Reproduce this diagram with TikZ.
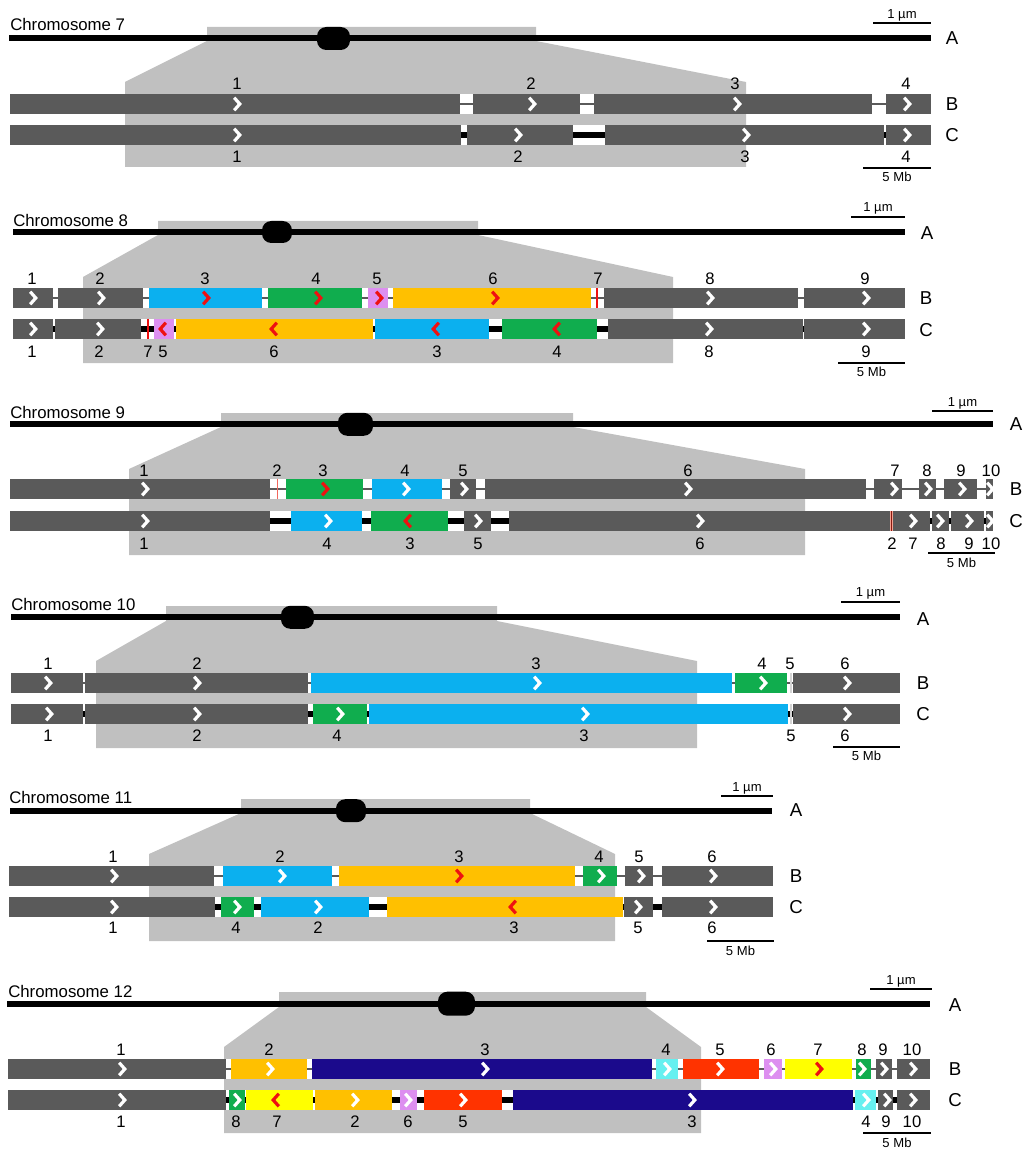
\documentclass[tikz,border=0pt]{standalone}
\usepackage{fontspec}
\setmainfont{Liberation Sans}
\definecolor{cDg}{HTML}{5A5A5A}
\definecolor{zoomgray}{HTML}{C0C0C0}
\definecolor{cBlue}{HTML}{0BB0EF}
\definecolor{cGreen}{HTML}{10AD4E}
\definecolor{cOrange}{HTML}{FFC000}
\definecolor{cPink}{HTML}{DD8FF0}
\definecolor{cRedOr}{HTML}{FF3300}
\definecolor{cYellow}{HTML}{FFFF00}
\definecolor{cNavy}{HTML}{1B0A8C}
\definecolor{cCyan}{HTML}{66F0F0}
\definecolor{chevred}{HTML}{EE1111}
\definecolor{darkred}{HTML}{8B1A10}
\definecolor{pinkred}{HTML}{F4A090}

% orientation chevrons drawn inside the blocks
\newcommand\chevW[2]{\draw[chev,white,shift={(#1,#2)}] (-2.8,-6.3) -- (2.8,0) -- (-2.8,6.3);}
\newcommand\chevR[2]{\draw[chev,chevred,shift={(#1,#2)}] (-2.8,-6.3) -- (2.8,0) -- (-2.8,6.3);}
\newcommand\chevL[2]{\draw[chev,chevred,shift={(#1,#2)}] (2.8,-6.3) -- (-2.8,0) -- (2.8,6.3);}
\newcommand\chevN[2]{}
% white track with its linker line: #1 top, #2 left, #3 right, #4 linker style
\newcommand\ktrack[4]{\fill[white] (#2,#1) rectangle (#3,#1+20);
  \draw[#4] (#2,#1+10) -- (#3,#1+10);}
% coloured blocks: #1 top, #2 list left/right/colour/chevron x/chevron type
\newcommand\kseg[2]{\foreach \xa/\xb/\col/\cx/\dir in {#2}{%
  \fill[\col] (\xa,#1) rectangle (\xb,#1+20);
  \csname chev\dir\endcsname{\cx}{#1+10}}}
% block numbers: #1 name prefix, #2 y, #3 list x/text
\newcommand\klabs[3]{\foreach \lx/\lt in {#3}{\node[num] (#1\lt) at (\lx,#2) {\lt};}}
% zoom wedge: x1,x2,ytop,yline,xl,xr,yslope,ybot
\newcommand\ktrap[8]{\fill[zoomgray] (#1,#3) -- (#2,#3) -- (#2,#4) -- (#6,#7) -- (#6,#8)
  -- (#5,#8) -- (#5,#7) -- (#1,#4) -- cycle;}
% chromosome line with centromere: #1 x1, #2 x2, #3 y, #4 cx, #5 half width, #6 half height
\newcommand\kchrom[6]{\draw[chromo] (#1,#3) -- (#2,#3);
  \fill[black,rounded corners=7pt] (#4-#5,#3-#6) rectangle (#4+#5,#3+#6);}
% scale bars
\newcommand\kum[4]{\draw[bar] (#2,#4) -- (#3,#4);
  \node[scl] (#1) at ({(#2+#3)/2},#4-5) {1 µm};}
\newcommand\kmb[4]{\draw[bar] (#2,#4) -- (#3,#4);
  \node[scl] (#1) at ({(#2+#3)/2},#4+14) {5 Mb};}
\newcommand\ktick[4]{\draw[#4] (#1,#2) -- (#1,#2+20);}

\begin{document}
\begin{tikzpicture}[x=0.75pt,y=-0.75pt,
  num/.style={font=\fontsize{12.5}{14}\selectfont, inner sep=0pt},
  ttl/.style={font=\fontsize{12.6}{15}\selectfont, anchor=west, inner sep=0pt},
  rowlbl/.style={font=\fontsize{14}{16}\selectfont, inner sep=0pt},
  scl/.style={font=\fontsize{9.8}{11}\selectfont, inner sep=0pt, anchor=base},
  chromo/.style={line width=4.5pt},
  bar/.style={line width=1.5pt},
  linkB/.style={draw=cDg, line width=1.1pt},
  linkC/.style={draw=black, line width=4pt},
  chev/.style={line width=2.4pt},
  redtick/.style={draw=chevred, line width=1.5pt}]
\useasboundingbox (0,0) rectangle (1024,1151);
\fill[white] (0,0) rectangle (1024,1151);

%% ---------------- Chromosome 7
\ktrap{207}{536}{27}{41}{125}{746}{82}{167}
\kchrom{9}{931}{38.5}{333.5}{16.5}{11.5}
\node[ttl] (t7) at (10,25) {Chromosome 7};
\kum{um7}{873}{931}{23.3}
\ktrack{94}{10}{931}{linkB}
\kseg{94}{10/460/cDg/237/W, 473/580/cDg/532/W, 594/872/cDg/737/W, 886/931/cDg/907/W}
\klabs{p7b}{84}{237/1, 531/2, 735/3, 906/4}
\ktrack{125}{10}{931}{linkC}
\kseg{125}{10/461/cDg/237/W, 467/573/cDg/518/W, 605/884/cDg/746/W, 886/931/cDg/907/W}
\klabs{p7c}{157}{237/1, 518/2, 745/3, 906/4}
\kmb{mb7}{863}{931}{168}
\node[rowlbl] (a7) at (952,38) {A};
\node[rowlbl] (b7) at (952,104) {B};
\node[rowlbl] (c7) at (952,135) {C};

%% ---------------- Chromosome 8
\ktrap{158}{478}{221}{235}{83}{673}{277}{363}
\kchrom{13}{905}{232}{277}{15}{11}
\node[ttl] (t8) at (13,220) {Chromosome 8};
\kum{um8}{851}{905}{217}
\ktrack{288}{13}{905}{linkB}
\kseg{288}{13/53/cDg/33/W, 58/143/cDg/101/W, 149/262/cBlue/206/R, 268/362/cGreen/318/R,
  368/388/cPink/379/R, 393/591/cOrange/495/R, 604/798/cDg/710/W, 804/905/cDg/866/W}
\ktick{597}{288}{}{redtick}
\klabs{p8b}{279}{32/1, 100/2, 205/3, 316/4, 377/5, 493/6, 598/7, 710/8, 865/9}
\ktrack{319}{13}{905}{linkC}
\kseg{319}{13/53/cDg/33/W, 55/141/cDg/100/W, 154/174/cPink/163/L, 176/373/cOrange/274/L,
  375/489/cBlue/436/L, 502/597/cGreen/557/L, 608/803/cDg/709/W, 804/905/cDg/866/W}
\ktick{148.3}{319}{}{redtick}
\klabs{p8c}{352}{32/1, 99/2, 148/7, 163/5, 274/6, 437/3, 557/4, 709/8, 866/9}
\kmb{mb8}{838}{905}{362.7}
\node[rowlbl] (a8) at (927,233) {A};
\node[rowlbl] (b8) at (926,298) {B};
\node[rowlbl] (c8) at (926,330) {C};

%% ---------------- Chromosome 9
\ktrap{221}{573}{413}{427}{129}{805}{469}{555}
\kchrom{10}{993}{424.3}{355.5}{17.5}{11.5}
\node[ttl] (t9) at (10,412) {Chromosome 9};
\kum{um9}{932}{993}{411}
\ktrack{479}{10}{993}{linkB}
\kseg{479}{10/270/cDg/145/W, 286/363/cGreen/325/R, 372/442/cBlue/406/W, 450/476/cDg/464/W,
  485/866/cDg/688/W, 874/902/cDg/894/W, 919/936/cDg/928/W, 944/977/cDg/962/W, 986/993/cDg/990/W}
\ktick{277.7}{479}{}{draw=pinkred!60!chevred, line width=0.9pt}
\klabs{p9b}{471}{144/1, 277/2, 323/3, 405/4, 463/5, 688/6, 895/7, 927/8, 961/9, 991/10}
\ktrack{511}{10}{993}{linkC}
\kseg{511}{10/270/cDg/145/W, 291/362/cBlue/328/W, 371/448/cGreen/408/L, 464/491/cDg/478/W,
  509/890/cDg/700/W, 893/930/cDg/913/W, 932/949/cDg/940/W, 951/984/cDg/969/W, 986/993/cDg/990/W}
\fill[pinkred] (890,511) rectangle (893,531);
\ktick{891.5}{511}{}{draw=darkred, line width=1.2pt}
\klabs{p9c}{544}{144/1, 327/4, 410/3, 478/5, 700/6, 892/2, 913/7, 941/8, 969/9, 991/10}
\kmb{mb9}{928}{995}{553.3}
\node[rowlbl] (a9) at (1016,424) {A};
\node[rowlbl] (b9) at (1016,489) {B};
\node[rowlbl] (c9) at (1016,521) {C};

%% ---------------- Chromosome 10
\ktrap{166}{497}{606}{621}{96}{697}{661}{748}
\kchrom{11}{900}{617.3}{297.5}{16.5}{11.5}
\node[ttl] (t10) at (11,604.5) {Chromosome 10};
\kum{um10}{841}{900}{601.7}
\ktrack{673}{11}{900}{linkB}
\kseg{673}{11/83/cDg/48/W, 85/308/cDg/197/W, 311/732/cBlue/537/W, 735/787/cGreen/763/W, 793/900/cDg/847/W}
\fill[zoomgray!70!white] (789.5,673) rectangle (791.5,693);
\klabs{p10b}{664}{48/1, 197/2, 536/3, 762/4, 790/5, 845/6}
\ktrack{704}{11}{900}{linkC}
\kseg{704}{11/83/cDg/49/W, 85/308/cDg/197/W, 313/367/cGreen/340/W, 369/788/cBlue/585/W, 793/900/cDg/847/W}
\fill[zoomgray!70!white] (790,704) rectangle (792,724);
\klabs{p10c}{736}{48/1, 197/2, 337/4, 584/3, 791/5, 845/6}
\kmb{mb10}{833}{900}{746.7}
\node[rowlbl] (a10) at (923,619) {A};
\node[rowlbl] (b10) at (923,683) {B};
\node[rowlbl] (c10) at (923,714) {C};

%% ---------------- Chromosome 11
\ktrap{241}{530}{799}{813}{149}{615}{854}{941}
\kchrom{10}{772}{810.7}{351}{15}{11.5}
\node[ttl] (t11) at (9,797) {Chromosome 11};
\kum{um11}{721}{773}{796}
\ktrack{866}{9}{773}{linkB}
\kseg{866}{9/214/cDg/114/W, 223/332/cBlue/282/W, 339/575/cOrange/459/R, 583/617/cGreen/601/W,
  625/653/cDg/641/W, 662/773/cDg/713/W}
\klabs{p11b}{857}{113/1, 280/2, 459/3, 599/4, 639/5, 712/6}
\ktrack{897}{9}{773}{linkC}
\kseg{897}{9/215/cDg/114/W, 221/254/cGreen/237/W, 261/369/cBlue/318/W, 387/623/cOrange/513/L,
  624/653/cDg/638/W, 662/773/cDg/713/W}
\klabs{p11c}{928}{113/1, 236/4, 318/2, 514/3, 638/5, 712/6}
\kmb{mb11}{707}{774}{941}
\node[rowlbl] (a11) at (796,810) {A};
\node[rowlbl] (b11) at (796,876) {B};
\node[rowlbl] (c11) at (796,907) {C};

%% ---------------- Chromosome 12
\ktrap{279}{646}{992}{1007}{224}{701}{1047}{1133}
\kchrom{7}{930}{1003.7}{456.5}{18.5}{12}
\node[ttl] (t12) at (8,991) {Chromosome 12};
\kum{um12}{870}{932}{989}
\ktrack{1059}{8}{930}{linkB}
\kseg{1059}{8/226/cDg/122/W, 231/307/cOrange/270/W, 312/652/cNavy/485/W, 656/678/cCyan/667/W,
  683/759/cRedOr/720/W, 764/782/cPink/773/W, 785/852/cYellow/819/R, 856/871/cGreen/862/W,
  876/892/cDg/884/W, 897/930/cDg/913/W}
\klabs{p12b}{1050}{121/1, 269/2, 485/3, 666/4, 720/5, 771/6, 818/7, 862/8, 883/9, 912/10}
\ktrack{1090}{8}{930}{linkC}
\kseg{1090}{8/226/cDg/122/W, 229/245/cGreen/237/W, 246/313/cYellow/276/L, 315/392/cOrange/355/W,
  400/417/cPink/408/W, 424/502/cRedOr/463/W, 513/853/cNavy/692/W, 855/876/cCyan/866/W,
  878/893/cDg/887/W, 897/930/cDg/913/W}
\klabs{p12c}{1122}{121/1, 236/8, 277/7, 355/2, 408/6, 463/5, 692/3, 866/4, 886/9, 912/10}
\kmb{mb12}{863}{931}{1133}
\node[rowlbl] (a12) at (955,1005) {A};
\node[rowlbl] (b12) at (955,1069) {B};
\node[rowlbl] (c12) at (955,1100) {C};
\end{tikzpicture}
\end{document}
